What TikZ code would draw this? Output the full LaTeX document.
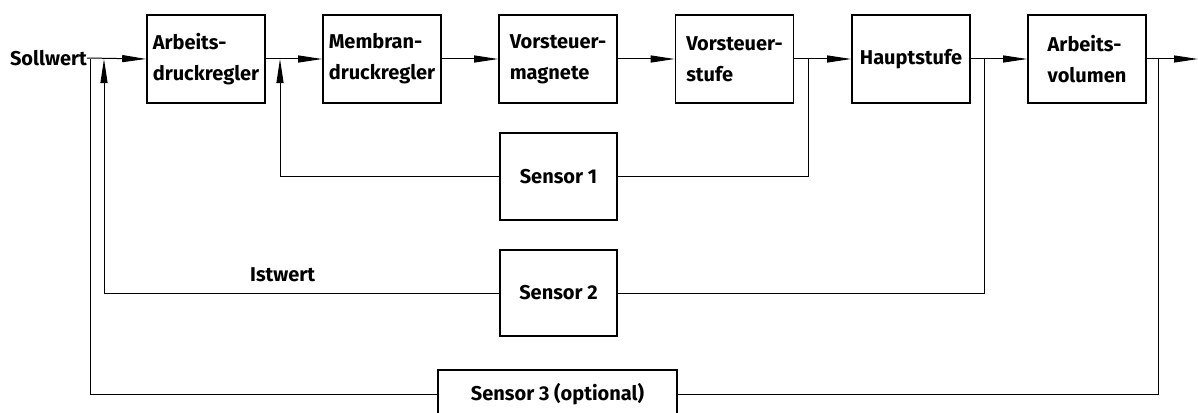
\documentclass[tikz,border=0pt]{standalone}
\usepackage{fontspec}
\setmainfont{Fira Sans}
\usetikzlibrary{arrows.meta}
\begin{document}
\begin{tikzpicture}[x=1pt,y=-1pt,
  blk/.style={draw,line width=1.6pt,minimum width=118pt,minimum height=88pt,inner sep=0pt,align=left,font=\fontsize{20}{31}\selectfont\bfseries},
  lbl/.style={inner sep=0pt,font=\fontsize{20}{31}\selectfont\bfseries},
  ln/.style={line width=1pt},
  arr/.style={ln,-{Triangle[length=24pt,width=7pt]}}]
\useasboundingbox (0,0) rectangle (1198,412);
% main row
\node[blk] (b1) at (206,59) {Arbeits-\\druckregler};
\node[blk] (b2) at (382,59) {Membran-\\druckregler};
\node[blk] (b3) at (558,59) {Vorsteuer-\\magnete};
\node[blk] (b4) at (734.5,59) {Vorsteuer-\\stufe};
\node[blk] (b5) at (911,59) {Hauptstufe};
\node[blk] (b6) at (1087,59) {Arbeits-\\volumen};
% sensors
\node[blk,minimum width=117pt,minimum height=87pt] (s1) at (558.5,176.5) {Sensor 1};
\node[blk,minimum width=117pt,minimum height=86pt] (s2) at (558.5,293) {Sensor 2};
\node[blk,minimum width=239pt,minimum height=48pt] (s3) at (557.5,394) {Sensor 3 (optional)};
% labels
\node[lbl,anchor=east] (sw) at (87,58) {Sollwert};
\node[lbl,anchor=west] (iw) at (250,275) {Istwert};
% coordinates
\coordinate (t0) at (90,59);
\coordinate (ta) at (104,59);
\coordinate (tb) at (280,59);
\coordinate (tc) at (808,59);
\coordinate (td) at (984,59);
\coordinate (te) at (1158,59);
\coordinate (out) at (1198,59);
% forward path
\draw[arr] (sw.east) -- (b1.west);
\draw[arr] (b1.east) -- (b2.west);
\draw[arr] (b2.east) -- (b3.west);
\draw[arr] (b3.east) -- (b4.west);
\draw[arr] (b4.east) -- (b5.west);
\draw[arr] (b5.east) -- (b6.west);
\draw[arr] (b6.east) -- (out);
% feedback
\draw[ln] (tc) |- (s1.east);
\draw[arr] (s1.west) -| (tb);
\draw[ln] (td) |- (s2.east);
\draw[arr] (s2.west) -| (ta);
\draw[ln] (te) |- (s3.east);
\draw[ln] (s3.west) -| (t0);
\end{tikzpicture}
\end{document}
